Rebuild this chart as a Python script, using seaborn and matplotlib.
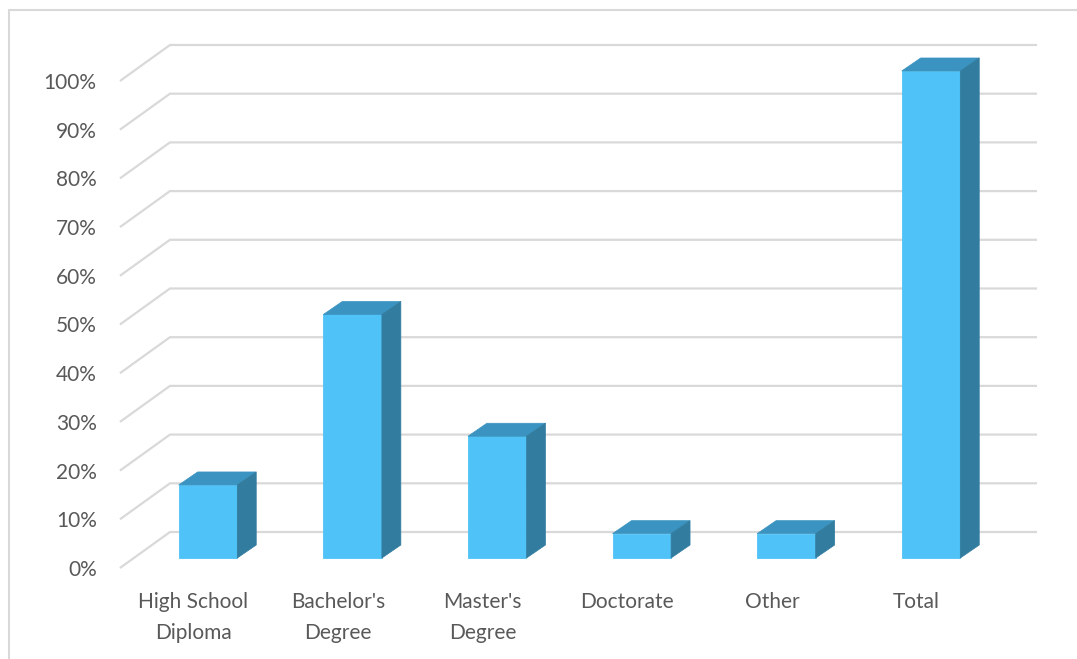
import matplotlib
matplotlib.use("Agg")
import matplotlib.pyplot as plt
from matplotlib.patches import Polygon
from matplotlib.lines import Line2D
import seaborn as sns
import pandas as pd

categories = ["High School\nDiploma", "Bachelor's\nDegree", "Master's\nDegree", "Doctorate", "Other", "Total"]
values = [15, 50, 25, 5, 5, 100]
y_ticks = [0, 10, 20, 30, 40, 50, 60, 70, 80, 90, 100]
y_tick_labels = [f"{v}%" for v in y_ticks]

FRONT = "#4FC3F7"
TOP = "#3A93C0"
SIDE = "#327C9F"
GRID = "#D9D9D9"
TEXT = "#595959"

sns.set_style("white")
plt.rcParams["font.family"] = ["Lato", "DejaVu Sans"]

df = pd.DataFrame({"cat": categories, "val": values})

fig = plt.figure(figsize=(10.77, 6.59), dpi=100)
ax = fig.add_axes([0.0911, 0.1163, 0.8942, 0.8351])

sns.barplot(data=df, x="cat", y="val", color=FRONT, saturation=1, width=0.405,
            ax=ax, zorder=3, linewidth=0.6, edgecolor=FRONT)

# 3D depth of bars (data units)
dx, dy = 0.131, 2.67
for p in list(ax.patches):
    x0, w, h = p.get_x(), p.get_width(), p.get_height()
    top = Polygon([(x0, h), (x0 + w, h), (x0 + w + dx, h + dy), (x0 + dx, h + dy)],
                  closed=True, facecolor=TOP, edgecolor=TOP, lw=0.5, zorder=3)
    side = Polygon([(x0 + w, 0), (x0 + w + dx, dy), (x0 + w + dx, h + dy), (x0 + w, h)],
                   closed=True, facecolor=SIDE, edgecolor=SIDE, lw=0.5, zorder=3.5)
    ax.add_patch(top)
    ax.add_patch(side)

# 3D-style gridlines: diagonal on the side wall + horizontal on the back wall
gx_front, gy_front = -0.609, -2.05
gx_back, gy_back = -0.263, 5.34
gx_right = 5.733
for v in y_ticks:
    ax.plot([gx_front, gx_back, gx_right], [v + gy_front, v + gy_back, v + gy_back],
            color=GRID, lw=1.6, zorder=1, solid_capstyle="butt")

ax.set_xlim(-0.76, 5.9)
ax.set_ylim(-5, 108)
ax.set_yticks([v + gy_front for v in y_ticks], y_tick_labels)
ax.set_xticks([i - 0.1 for i in range(len(categories))], categories)
ax.tick_params(axis="y", length=0, pad=1, labelsize=15, labelcolor=TEXT)
ax.tick_params(axis="x", length=0, pad=7, labelsize=15, labelcolor=TEXT)
for lab in ax.get_xticklabels():
    lab.set_linespacing(1.7)
ax.set_xlabel("")
ax.set_ylabel("")
for s in ax.spines.values():
    s.set_visible(False)

# chart-area border (top and left)
fig.add_artist(Line2D([8.5 / 1077, 1.0], [1 - 9.5 / 659, 1 - 9.5 / 659],
                      transform=fig.transFigure, color=GRID, lw=1.5))
fig.add_artist(Line2D([8.5 / 1077, 8.5 / 1077], [0.0, 1 - 9.5 / 659],
                      transform=fig.transFigure, color=GRID, lw=1.5))

fig.savefig("out.png", dpi=100, facecolor="white")
